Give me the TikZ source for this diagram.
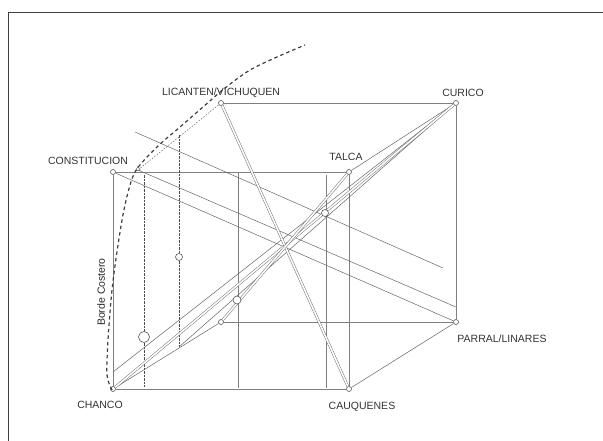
\documentclass[tikz,border=0pt]{standalone}
\usepackage{fontspec}
\setmainfont{Liberation Sans}
\usetikzlibrary{shapes.geometric}
\begin{document}
\begin{tikzpicture}[x=1pt,y=-1pt,
  edge/.style={draw=black!50, line width=0.6pt},
  thin/.style={draw=black!60, line width=0.5pt},
  dbl/.style={draw=black!55, line width=0.5pt, double=white, double distance=1.6pt},
  vtx/.style={circle, draw=black!65, fill=white, inner sep=0pt, minimum size=5pt, line width=0.6pt},
  mk/.style={circle, draw=black!65, fill=white, inner sep=0pt, minimum size=#1, line width=0.6pt},
  tri/.style={regular polygon, regular polygon sides=3, draw=black!65, fill=white, inner sep=0pt, minimum size=5pt, line width=0.5pt},
  lbl/.style={font=\fontsize{10.5}{11}\selectfont, text=black!80, inner sep=0pt},
  dsh/.style={draw=black!75, line width=1.2pt, dash pattern=on 3.5pt off 3pt},
  dvert/.style={draw=black!70, line width=0.8pt, dash pattern=on 2.5pt off 1pt}]
\useasboundingbox (0,0) rectangle (603,440);
\fill[white] (0,0) rectangle (603,440);
\draw[black!75, line width=0.8pt] (8,441) -- (8,12) -- (604,12);

% cube vertices
\node[vtx] (chanco) at (113,389) {};
\node[vtx] (cauq) at (349,389) {};
\node[vtx] (parral) at (456,322) {};
\node[vtx] (curico) at (456,103) {};
\node[vtx] (lican) at (221,103) {};
\node[vtx] (const) at (113,172) {};
\node[vtx] (talca) at (349,172) {};
\node[vtx] (bbl) at (221,322) {};

% auxiliary points
\coordinate (p1) at (138,170);
\coordinate (p2) at (113,372);
\coordinate (p3) at (179,347);
\coordinate (q1) at (456,307);
\coordinate (f1) at (135,132);
\coordinate (f2) at (443,268);
\coordinate (d1t) at (144,175);
\coordinate (d1b) at (144,387);
\coordinate (d2t) at (179,135);
\coordinate (v1t) at (238,172);
\coordinate (v1b) at (238,388);
\coordinate (v2t) at (326,175);
\coordinate (v2b) at (326,388);

% cube edges
\draw[edge] (const) -- (talca);
\draw[edge] (const) -- (chanco);
\draw[edge] (chanco) -- (cauq);
\draw[edge] (talca) -- (cauq);
\draw[edge] (lican) -- (curico);
\draw[edge] (curico) -- (parral);
\draw[edge] (bbl) -- (parral);
\draw[thin] (cauq) -- (parral);
\draw[thin] (chanco) -- (bbl);
\draw[thin] (talca) -- (curico);
\draw[thin, dash pattern=on 1.5pt off 1.5pt] (p1) -- (lican);

% verticals
\draw[edge] (v1t) -- (v1b);
\draw[edge] (v2t) -- (v2b);
\draw[dvert] (d1t) -- (d1b);
\draw[dvert] (d2t) -- (p3);

% descending lines
\draw[thin] (const) -- (parral);
\draw[thin] (p1) -- (q1);
\draw[thin] (f1) -- (f2);

% ascending bundle to Curico
\draw[thin] (p2) -- (curico);
\draw[thin] (p3) -- (curico);
\draw[dbl] (chanco) -- (curico);

% other diagonals
\draw[dbl] (lican) -- (cauq);
\draw[dbl] (bbl) -- (talca);

% marks on lines
\node[mk=11pt] (m1) at (144,337) {};
\node[mk=7pt] (m2) at (179,257) {};
\node[mk=8pt] (m3) at (237,300) {};
\node[mk=7pt] (m4) at (325,213) {};
\node[tri] (m5) at (138,169) {};

% coastal border curve
\draw[dsh] plot[smooth] coordinates {(112,390) (107,375) (108,340) (112,290) (118,245) (125,205) (135,172) (157,147) (180,127) (203,107) (225,88) (250,70) (277,57) (305,45)};

% labels
\node[lbl] (lchanco) at (100,405) {CHANCO};
\node[lbl] (lcauq) at (362,407) {CAUQUENES};
\node[lbl] (lparral) at (502,339) {PARRAL/LINARES};
\node[lbl] (lcurico) at (463,93) {CURICO};
\node[lbl] (llican) at (221,93) {LICANTEN/VICHUQUEN};
\node[lbl] (lconst) at (88,161) {CONSTITUCION};
\node[lbl] (ltalca) at (346,157) {TALCA};
\node[lbl, rotate=90, text=black!85] (borde) at (101,292) {Borde Costero};
\end{tikzpicture}
\end{document}
